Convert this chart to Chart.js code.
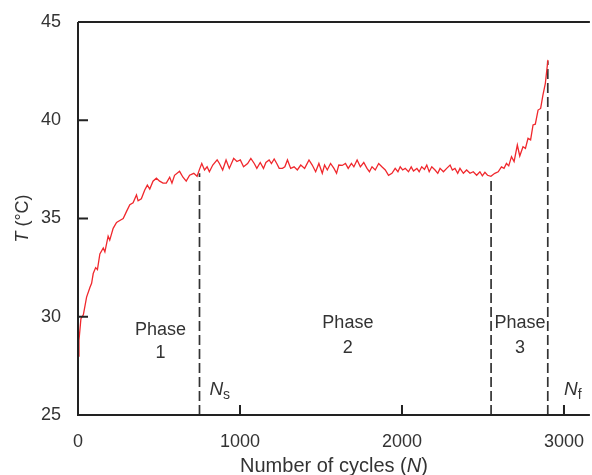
<!DOCTYPE html>
<html lang="en">
<head>
  <meta charset="UTF-8" />
  <title>Temperature vs number of cycles</title>
  <script src="https://cdn.jsdelivr.net/npm/chart.js"></script>
  <style>
    body {
      margin: 0;
      padding: 0;
      background: #fff;
    }
    #wrap {
      width: 592px;
      height: 475px;
      position: relative;
    }
  </style>
</head>
<body>
  <div id="wrap"><canvas id="tempChart"></canvas></div>

<script>
  // readings taken off the curve (cycles, °C)
  const cycles = [
    0, 6, 18, 33, 53, 74, 84, 94, 109, 120, 135, 156, 166, 186, 196, 217, 238, 258, 279, 299,
    320, 340, 361, 371, 391, 412, 428, 443, 463, 484, 504, 525, 545, 566, 580, 596, 627, 648, 668, 689,
    715, 735, 750, 764, 781, 797, 811, 832, 859, 873, 893, 914, 934, 961, 981, 1002, 1022, 1047, 1067, 1088,
    1104, 1125, 1145, 1160, 1180, 1194, 1211, 1227, 1242, 1262, 1277, 1293, 1313, 1334, 1354, 1375, 1399, 1426, 1446, 1467,
    1487, 1508, 1522, 1539, 1559, 1580, 1596, 1610, 1631, 1651, 1668, 1688, 1703, 1723, 1743, 1764, 1784, 1799, 1815, 1835,
    1856, 1876, 1897, 1917, 1938, 1958, 1975, 1989, 2004, 2020, 2040, 2057, 2071, 2092, 2106, 2122, 2139, 2153, 2168, 2184,
    2204, 2221, 2235, 2256, 2276, 2297, 2311, 2327, 2344, 2358, 2379, 2399, 2420, 2440, 2461, 2481, 2496, 2512, 2528, 2549,
    2573, 2594, 2614, 2630, 2645, 2659, 2676, 2692, 2712, 2727, 2747, 2762, 2778, 2794, 2809, 2823, 2840, 2856, 2870, 2885,
    2901
  ];
  const tempC = [
    28.0, 28.8, 29.9, 30.1, 31.0, 31.5, 31.7, 32.2, 32.5, 32.4, 33.2, 33.5, 33.3, 34.1, 33.9, 34.5, 34.8, 34.9, 35.0, 35.35,
    35.7, 35.8, 36.2, 35.9, 36.0, 36.45, 36.7, 36.5, 36.9, 37.05, 36.9, 36.8, 36.8, 37.1, 36.8, 37.2, 37.4, 37.1, 36.9, 37.2,
    37.3, 37.15, 37.5, 37.8, 37.47, 37.63, 37.38, 37.72, 37.98, 37.8, 37.47, 37.98, 37.55, 38.06, 37.9, 37.98, 37.63, 37.8, 38.06, 37.8,
    37.55, 37.85, 37.55, 37.85, 37.98, 37.8, 38.03, 37.8, 37.55, 37.55, 37.63, 37.98, 37.55, 37.63, 37.47, 37.72, 37.55, 37.98, 37.72, 37.38,
    37.8, 37.3, 37.72, 37.47, 37.8, 37.55, 37.3, 37.72, 37.7, 37.8, 37.55, 37.8, 37.63, 37.98, 37.63, 37.85, 37.55, 37.38, 37.63, 37.47,
    37.8, 37.63, 37.47, 37.2, 37.3, 37.55, 37.38, 37.63, 37.47, 37.55, 37.38, 37.63, 37.42, 37.55, 37.38, 37.63, 37.5, 37.72, 37.38, 37.63,
    37.47, 37.3, 37.55, 37.38, 37.55, 37.72, 37.47, 37.55, 37.3, 37.55, 37.3, 37.47, 37.3, 37.38, 37.2, 37.38, 37.17, 37.35, 37.2, 37.15,
    37.3, 37.38, 37.63, 37.55, 37.8, 37.68, 38.15, 37.9, 38.74, 38.18, 38.65, 38.57, 39.08, 39.0, 39.76, 39.8, 40.52, 40.6, 41.28, 41.88,
    43.07
  ];

  // phase boundaries: Ns, start of phase 3, Nf
  const boundaryCycles = [750, 2550, 2900];
  const boundaryTops = [37.3, 37.1, 43.0];

  const xTicks = [0, 1000, 2000, 3000];
  const yTicks = [25, 30, 35, 40, 45];

  const phaseNames = ['Phase', 'Phase', 'Phase'];
  const phaseNumbers = ['1', '2', '3'];

  const textColor = '#333';
  const axisColor = '#222';
  const font = '"Liberation Sans", Arial, sans-serif';

  const curve = cycles.map((n, i) => ({ x: n, y: tempC[i] }));

  const boundarySets = boundaryCycles.map((n, i) => ({
    data: [{ x: n, y: 25 }, { x: n, y: boundaryTops[i] }],
    borderColor: '#333',
    borderWidth: 1.7,
    borderDash: [10, 4],
    pointRadius: 0,
    showLine: true
  }));

  // frame, inward ticks, labels
  const decor = {
    id: 'decor',
    afterDraw(chart) {
      const c = chart.ctx;
      const a = chart.chartArea;
      const xs = chart.scales.x;
      const ys = chart.scales.y;
      c.save();

      c.strokeStyle = axisColor;
      c.lineWidth = 2;
      c.beginPath();
      c.moveTo(a.left, a.top);
      c.lineTo(a.right, a.top);
      c.moveTo(a.left, a.top);
      c.lineTo(a.left, a.bottom);
      c.lineTo(a.right, a.bottom);
      c.stroke();

      c.beginPath();
      xTicks.slice(1).forEach(v => {
        const px = xs.getPixelForValue(v);
        c.moveTo(px, a.bottom);
        c.lineTo(px, a.bottom - 10);
      });
      yTicks.slice(1, -1).forEach(v => {
        const py = ys.getPixelForValue(v);
        c.moveTo(a.left, py);
        c.lineTo(a.left + 10, py);
      });
      c.stroke();

      c.fillStyle = textColor;
      c.textAlign = 'center';
      c.textBaseline = 'middle';
      c.font = '18px ' + font;
      const phasePos = [[510, 29.33, 28.16], [1666, 29.68, 28.41], [2729, 29.68, 28.41]];
      phasePos.forEach((p, i) => {
        const px = xs.getPixelForValue(p[0]);
        c.fillText(phaseNames[i], px, ys.getPixelForValue(p[1]));
        c.fillText(phaseNumbers[i], px, ys.getPixelForValue(p[2]));
      });

      // N_s and N_f
      const subLabel = (n, t, sub) => {
        let px = xs.getPixelForValue(n);
        const py = ys.getPixelForValue(t);
        c.textAlign = 'left';
        c.textBaseline = 'alphabetic';
        c.font = 'italic 19px ' + font;
        c.fillText('N', px, py + 7);
        px += c.measureText('N').width;
        c.font = '14px ' + font;
        c.fillText(sub, px, py + 11);
      };
      subLabel(811, 26.37, 's');
      subLabel(3000, 26.37, 'f');

      // x title
      c.textBaseline = 'alphabetic';
      const parts = [['Number of cycles (', false], ['N', true], [')', false]];
      let w = 0;
      parts.forEach(p => {
        c.font = (p[1] ? 'italic ' : '') + '20px ' + font;
        w += c.measureText(p[0]).width;
      });
      let tx = (a.left + a.right) / 2 - w / 2;
      parts.forEach(p => {
        c.font = (p[1] ? 'italic ' : '') + '20px ' + font;
        c.fillText(p[0], tx, 472);
        tx += c.measureText(p[0]).width;
      });

      // y title
      c.translate(28, (a.top + a.bottom) / 2);
      c.rotate(-Math.PI / 2);
      const yParts = [['T', true], [' (°C)', false]];
      w = 0;
      yParts.forEach(p => {
        c.font = (p[1] ? 'italic ' : '') + '18px ' + font;
        w += c.measureText(p[0]).width;
      });
      tx = -w / 2;
      yParts.forEach(p => {
        c.font = (p[1] ? 'italic ' : '') + '18px ' + font;
        c.fillText(p[0], tx, 0);
        tx += c.measureText(p[0]).width;
      });

      c.restore();
    }
  };

  new Chart(document.getElementById('tempChart'), {
    type: 'scatter',
    data: {
      datasets: [{
        data: curve,
        borderColor: '#f0282d',
        borderWidth: 1.3,
        pointRadius: 0,
        showLine: true
      }, ...boundarySets]
    },
    options: {
      responsive: true,
      maintainAspectRatio: false,
      animation: false,
      layout: { padding: { top: 22, right: 0, left: 0, bottom: 0 } },
      plugins: {
        legend: { display: false },
        tooltip: { enabled: false }
      },
      scales: {
        x: {
          type: 'linear',
          min: 0,
          max: 3160,
          afterBuildTicks: s => { s.ticks = xTicks.map(v => ({ value: v })); },
          afterFit: s => { s.height = 60; },
          grid: { display: false },
          border: { display: false },
          ticks: {
            color: textColor,
            font: { size: 18, family: font },
            padding: 8,
            maxRotation: 0,
            autoSkip: false,
            callback: v => String(v)
          }
        },
        y: {
          min: 25,
          max: 45,
          afterBuildTicks: s => { s.ticks = yTicks.map(v => ({ value: v })); },
          afterFit: s => { s.width = 78; },
          grid: { display: false },
          border: { display: false },
          ticks: {
            color: textColor,
            font: { size: 18, family: font },
            padding: 9,
            callback: v => String(v)
          }
        }
      }
    },
    plugins: [decor]
  });
</script>
</body>
</html>
